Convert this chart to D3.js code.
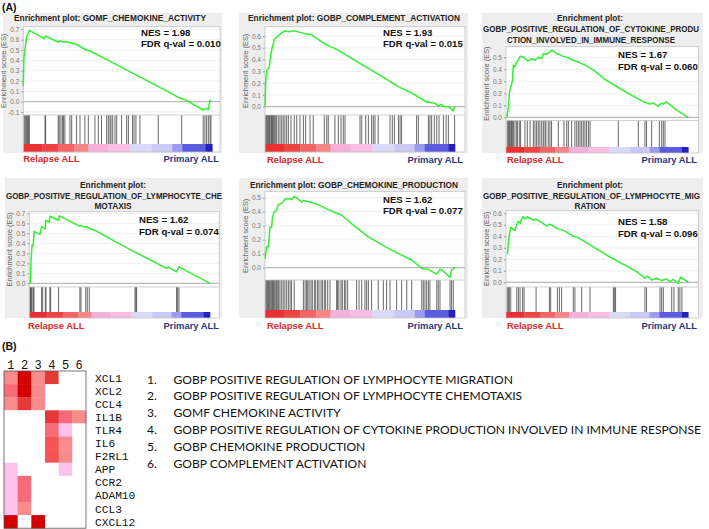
<!DOCTYPE html>
<html><head><meta charset="utf-8">
<script src="https://cdn.jsdelivr.net/npm/d3@7"></script>
<style>body{margin:0;background:#fff}svg{display:block}</style>
</head><body>
<svg id="c" width="709" height="529"></svg>
<script>
// ---------------- DATA ----------------
const titles1 = ["Enrichment plot: GOMF_CHEMOKINE_ACTIVITY"];
const titles2 = ["Enrichment plot: GOBP_COMPLEMENT_ACTIVATION"];
const titles3 = ["Enrichment plot:", "GOBP_POSITIVE_REGULATION_OF_CYTOKINE_PRODU", "CTION_INVOLVED_IN_IMMUNE_RESPONSE"];
const titles4 = ["Enrichment plot:", "GOBP_POSITIVE_REGULATION_OF_LYMPHOCYTE_CHE", "MOTAXIS"];
const titles5 = ["Enrichment plot: GOBP_CHEMOKINE_PRODUCTION"];
const titles6 = ["Enrichment plot:", "GOBP_POSITIVE_REGULATION_OF_LYMPHOCYTE_MIG", "RATION"];
const nesValues = ["1.98", "1.93", "1.67", "1.62", "1.62", "1.58"];
const fdrValues = ["0.010", "0.015", "0.060", "0.074", "0.077", "0.096"];
const groupLabels = ["Relapse ALL", "Primary ALL"];

const yTicks1 = [-0.1, 0, 0.1, 0.2, 0.3, 0.4, 0.5, 0.6, 0.7];
const yTicks2 = [0, 0.1, 0.2, 0.3, 0.4, 0.5, 0.6];
const yTicks3 = [0, 0.1, 0.2, 0.3, 0.4, 0.5];
const yTicks4 = [0, 0.1, 0.2, 0.3, 0.4, 0.5, 0.6, 0.7];
const yTicks5 = [0, 0.1, 0.2, 0.3, 0.4, 0.5];
const yTicks6 = [0, 0.1, 0.2, 0.3, 0.4, 0.5, 0.6];

// running enrichment score: [rank fraction, ES]
const es1 = [[0,0.15],[0.0035,0.43],[0.012,0.55],[0.018,0.63],[0.026,0.66],[0.032,0.69],[0.111,0.61],[0.118,0.635],[0.185,0.575],[0.194,0.59],[0.212,0.575],[0.229,0.58],[0.247,0.57],[0.282,0.555],[0.332,0.50],[0.353,0.49],[0.45,0.40],[0.60,0.255],[0.70,0.16],[0.829,0.035],[0.86,0.015],[0.952,-0.08],[0.966,-0.065],[0.979,-0.075],[0.988,0.015],[0.996,0.0]];
const es2 = [[0,0],[0.0035,0.2],[0.009,0.31],[0.018,0.325],[0.023,0.35],[0.032,0.45],[0.039,0.51],[0.049,0.57],[0.061,0.59],[0.079,0.615],[0.105,0.645],[0.123,0.635],[0.149,0.645],[0.175,0.635],[0.211,0.62],[0.246,0.61],[0.298,0.55],[0.342,0.51],[0.368,0.495],[0.456,0.41],[0.544,0.325],[0.632,0.24],[0.702,0.17],[0.789,0.10],[0.851,0.04],[0.895,0.03],[0.912,0.005],[0.926,0.02],[0.944,0.0],[0.965,0.0],[0.991,-0.035],[1.0,0.005]];
const es3 = [[0.004,0],[0.013,0.075],[0.018,0.2],[0.026,0.255],[0.035,0.3],[0.040,0.435],[0.049,0.42],[0.059,0.46],[0.068,0.48],[0.080,0.51],[0.095,0.5],[0.122,0.47],[0.141,0.49],[0.159,0.475],[0.177,0.5],[0.196,0.49],[0.205,0.53],[0.223,0.525],[0.241,0.545],[0.250,0.56],[0.260,0.555],[0.278,0.53],[0.296,0.52],[0.311,0.51],[0.333,0.5],[0.369,0.475],[0.406,0.455],[0.433,0.435],[0.479,0.395],[0.534,0.325],[0.625,0.24],[0.717,0.16],[0.753,0.13],[0.790,0.11],[0.808,0.12],[0.835,0.09],[0.848,0.115],[0.863,0.11],[0.881,0.13],[0.936,0.06],[1.0,0]];
const es4 = [[0,0],[0.007,0],[0.009,0.2],[0.015,0.38],[0.022,0.375],[0.026,0.52],[0.059,0.49],[0.068,0.57],[0.087,0.54],[0.092,0.63],[0.111,0.61],[0.114,0.67],[0.161,0.63],[0.166,0.675],[0.280,0.57],[0.286,0.58],[0.308,0.56],[0.314,0.565],[0.373,0.52],[0.576,0.32],[0.760,0.15],[0.769,0.165],[0.815,0.115],[0.828,0.165],[1.0,0]];
const es5 = [[0,0.065],[0.009,0.15],[0.018,0.15],[0.026,0.29],[0.035,0.29],[0.039,0.36],[0.049,0.40],[0.061,0.41],[0.070,0.45],[0.088,0.46],[0.096,0.47],[0.105,0.49],[0.123,0.49],[0.132,0.495],[0.140,0.485],[0.154,0.51],[0.193,0.47],[0.202,0.48],[0.246,0.465],[0.281,0.45],[0.333,0.415],[0.404,0.375],[0.456,0.315],[0.544,0.22],[0.632,0.15],[0.719,0.09],[0.772,0.055],[0.825,-0.005],[0.860,-0.012],[0.895,-0.04],[0.904,-0.045],[0.921,-0.012],[0.930,-0.015],[0.974,-0.07],[0.982,-0.016],[0.991,-0.01],[1.0,0.007]];
const es6 = [[0.004,0.25],[0.009,0.25],[0.013,0.345],[0.018,0.41],[0.026,0.48],[0.049,0.45],[0.059,0.50],[0.068,0.53],[0.077,0.51],[0.086,0.555],[0.095,0.57],[0.104,0.55],[0.117,0.57],[0.150,0.54],[0.165,0.55],[0.223,0.49],[0.241,0.505],[0.278,0.47],[0.296,0.46],[0.324,0.445],[0.369,0.40],[0.388,0.395],[0.570,0.22],[0.717,0.093],[0.762,0.035],[0.775,0.055],[0.799,0.02],[0.826,0.035],[0.854,0.015],[0.881,0.03],[0.899,0.005],[0.918,0.025],[0.936,0.0],[0.945,-0.01],[0.958,0.045],[1.0,0]];

// gene set hit positions (rank fraction)
const hits1 = [0.004,0.009,0.014,0.018,0.023,0.028,0.032,0.115,0.118,0.185,0.190,0.199,0.208,0.212,0.220,0.247,0.256,0.282,0.300,0.326,0.344,0.379,0.397,0.414,0.441,0.450,0.459,0.464,0.473,0.485,0.494,0.520,0.547,0.556,0.578,0.586,0.596,0.617,0.714,0.838,0.952,0.961,0.970,0.979,0.988,0.993];
const hits2 = [0.004,0.009,0.012,0.018,0.023,0.026,0.032,0.035,0.039,0.044,0.049,0.054,0.061,0.070,0.079,0.088,0.096,0.105,0.114,0.123,0.137,0.154,0.167,0.184,0.202,0.214,0.237,0.254,0.312,0.325,0.333,0.368,0.386,0.400,0.412,0.421,0.500,0.509,0.530,0.544,0.561,0.570,0.579,0.596,0.658,0.670,0.681,0.702,0.711,0.719,0.798,0.807,0.860,0.868,0.877,0.891,0.904,0.916,0.939,0.953,0.965,0.998];
const hits3 = [0.007,0.013,0.018,0.022,0.027,0.031,0.037,0.040,0.049,0.059,0.062,0.073,0.080,0.104,0.117,0.132,0.150,0.159,0.168,0.177,0.186,0.196,0.205,0.214,0.219,0.232,0.241,0.250,0.287,0.318,0.333,0.342,0.360,0.378,0.388,0.397,0.406,0.415,0.424,0.433,0.442,0.452,0.461,0.616,0.726,0.762,0.771,0.799,0.841,0.854,0.863,0.872];
const hits4 = [0.004,0.007,0.011,0.015,0.022,0.026,0.068,0.074,0.089,0.092,0.114,0.118,0.162,0.280,0.286,0.312,0.321,0.332,0.585,0.590,0.594,0.815,0.821,0.828];
const hits5 = [0.004,0.009,0.014,0.018,0.023,0.028,0.035,0.039,0.044,0.049,0.054,0.061,0.067,0.072,0.079,0.088,0.096,0.105,0.114,0.123,0.132,0.140,0.154,0.202,0.211,0.219,0.225,0.232,0.242,0.249,0.260,0.267,0.277,0.284,0.295,0.302,0.312,0.319,0.330,0.342,0.377,0.382,0.389,0.400,0.407,0.418,0.425,0.435,0.482,0.495,0.509,0.526,0.535,0.544,0.561,0.596,0.623,0.640,0.658,0.693,0.719,0.746,0.772,0.825,0.833,0.842,0.851,0.860,0.868,0.904,0.912,0.921,0.974,0.982,0.991];
const hits6 = [0.007,0.013,0.018,0.026,0.059,0.068,0.077,0.091,0.099,0.165,0.238,0.245,0.282,0.293,0.305,0.369,0.378,0.415,0.461,0.589,0.594,0.601,0.762,0.771,0.845,0.854,0.863,0.909,0.921,0.945,0.954,0.965];

// ranked-list colour bar: block end fractions and colours
const barStops = [0.10, 0.186, 0.27, 0.345, 0.45, 0.566, 0.68, 0.788, 0.841, 0.965, 1.0];
const barColors = ["#ea3030","#ef4444","#f46464","#f78686","#f6b0dc","#f7bde3","#dadaf8","#c9c9f5","#9a9aee","#5b5be0","#2222bb"];

// panel B
const columnLabels = ["1", "2", "3", "4", "5", "6"];
const genes = ["XCL1","XCL2","CCL4","IL1B","TLR4","IL6","F2RL1","APP","CCR2","ADAM10","CCL3","CXCL12"];
const heatValues = [
  [2,6,2,5,0,0],
  [3,6,2,0,0,0],
  [2,5,2,0,0,0],
  [0,0,0,5,3,2],
  [0,0,0,3,1,0],
  [0,0,0,4,2,0],
  [0,0,0,4,2,0],
  [1,0,0,0,1,0],
  [1,3,0,0,0,0],
  [1,3,0,0,0,0],
  [1,2,0,0,0,0],
  [6,0,6,0,0,0]
];
const heatLevels = [0,1,2,3,4,5,6];
const heatColors = ["#ffffff","#fbc2ee","#f98b8b","#f76a7a","#f65454","#e53838","#d40000"];
const pathways = [
  "GOBP POSITIVE REGULATION OF LYMPHOCYTE MIGRATION",
  "GOBP POSITIVE REGULATION OF LYMPHOCYTE CHEMOTAXIS",
  "GOMF CHEMOKINE ACTIVITY",
  "GOBP POSITIVE REGULATION OF CYTOKINE PRODUCTION INVOLVED IN IMMUNE RESPONSE",
  "GOBP CHEMOKINE PRODUCTION",
  "GOBP COMPLEMENT ACTIVATION"
];

// ---------------- LAYOUT ----------------
const panelData = [
  {titles: titles1, es: es1, hits: hits1, ticks: yTicks1},
  {titles: titles2, es: es2, hits: hits2, ticks: yTicks2},
  {titles: titles3, es: es3, hits: hits3, ticks: yTicks3},
  {titles: titles4, es: es4, hits: hits4, ticks: yTicks4},
  {titles: titles5, es: es5, hits: hits5, ticks: yTicks5},
  {titles: titles6, es: es6, hits: hits6, ticks: yTicks6}
];
const layout = [
  {bg:[3,13,222,153], xs:23.3, xe:212.3, right:220, top:26.7, esB:115, barT:144, barB:152, zero:101.7, refV:0.7, refPx:29.3,
   tl:[{x0:14,x1:206,y:21}], nes:[141,36,47], lab:[23.3,219,162]},
  {bg:[239,13,468,153], xs:265, xe:455, right:465, top:26.7, esB:115, barT:144, barB:152, zero:106.7, refV:0.6, refPx:36,
   tl:[{x0:248,x1:460,y:21}], nes:[383,36,47], lab:[267,463,163]},
  {bg:[482,13,703,153], xs:506, xe:688.3, right:698.3, top:46.7, esB:120.5, barT:147, barB:153, zero:117.3, refV:0.5, refPx:57.3,
   tl:[{c:590,y:21},{x0:483,x1:699,y:32},{x0:507,x1:675,y:42.5}], nes:[618,58.3,70], lab:[507,697,163]},
  {bg:[5,178,222,318], xs:29.3, xe:210, right:219.3, top:211.7, esB:287, barT:312, barB:318, zero:283.3, refV:0.7, refPx:213.3,
   tl:[{c:113,y:188},{x0:6,x1:222,y:199},{c:113,y:209}], nes:[139,223.3,235], lab:[28,219,329]},
  {bg:[239,178,468,318], xs:265, xe:455, right:465, top:191.7, esB:280, barT:310, barB:318, zero:267.7, refV:0.5, refPx:197.7,
   tl:[{x0:250,x1:458,y:188}], nes:[383,203.3,214.3], lab:[267,463,329]},
  {bg:[482,178,703,318], xs:506, xe:688.3, right:698.3, top:210.7, esB:287, barT:312, barB:318, zero:282.3, refV:0.6, refPx:213.3,
   tl:[{c:590,y:188},{x0:483,x1:700,y:199},{c:590,y:209}], nes:[618,225,236.7], lab:[507,697,329]}
];

const svg = d3.select("#c");
const SANS = "'Liberation Sans', Arial, sans-serif";

svg.append("text").attr("x", 2).attr("y", 11).attr("font-family", SANS)
  .attr("font-weight", "bold").attr("font-size", 10.5).attr("fill", "#111").text("(A)");

panelData.forEach((pd, i) => {
  const L = layout[i];
  const g = svg.append("g");
  g.append("rect").attr("x", L.bg[0]).attr("y", L.bg[1]).attr("width", L.bg[2]-L.bg[0])
    .attr("height", L.bg[3]-L.bg[1]).attr("fill", "#eeeeee");
  const x = d3.scaleLinear().domain([0, 1]).range([L.xs, L.xe]);
  const y = d3.scaleLinear().domain([0, L.refV]).range([L.zero, L.refPx]);

  g.append("rect").attr("x", L.xs).attr("y", L.top).attr("width", L.right-L.xs)
    .attr("height", L.barB-L.top).attr("fill", "#fff");

  g.selectAll("line.grid").data(pd.ticks).join("line").attr("class","grid")
    .attr("x1", L.xs).attr("x2", L.right).attr("y1", d => y(d)).attr("y2", d => y(d))
    .attr("stroke", d => d === 0 ? "#a8a8a8" : "#ececec").attr("stroke-width", d => d === 0 ? 1 : 0.8);

  const ax = g.append("g").attr("transform", `translate(${L.xs},0)`)
    .call(d3.axisLeft(y).tickValues(pd.ticks).tickSize(2).tickPadding(2).tickFormat(d => d.toFixed(1)));
  ax.select(".domain").remove();
  ax.selectAll(".tick line").attr("stroke", "#999");
  ax.selectAll(".tick text").attr("font-family", SANS).attr("font-size", 6.5).attr("fill", "#777");

  g.append("text").attr("transform", `translate(${L.xs-17},${(L.top+L.esB)/2}) rotate(-90)`)
    .attr("text-anchor", "middle").attr("font-family", SANS).attr("font-size", 7.4).attr("fill", "#666")
    .text("Enrichment score (ES)");

  g.selectAll("line.hit").data(pd.hits).join("line").attr("class","hit")
    .attr("x1", d => x(d)).attr("x2", d => x(d)).attr("y1", L.esB).attr("y2", L.barT)
    .attr("stroke", "#3a3a3a").attr("stroke-width", 0.9).attr("stroke-opacity", 0.85);

  const starts = [0].concat(barStops.slice(0, -1));
  g.selectAll("rect.bar").data(barStops).join("rect").attr("class","bar")
    .attr("x", (d, k) => x(starts[k])).attr("width", (d, k) => x(d) - x(starts[k]) + 0.3)
    .attr("y", L.barT).attr("height", L.barB - L.barT).attr("fill", (d, k) => barColors[k]);

  g.append("line").attr("x1", L.xs).attr("x2", L.right).attr("y1", L.esB).attr("y2", L.esB)
    .attr("stroke", "#c4c4c4").attr("stroke-width", 0.8);
  g.append("rect").attr("x", L.xs).attr("y", L.top).attr("width", L.right-L.xs)
    .attr("height", L.barB-L.top).attr("fill", "none").attr("stroke", "#c4c4c4").attr("stroke-width", 0.8);

  g.append("path").datum(pd.es).attr("fill", "none").attr("stroke", "#33ee33").attr("stroke-width", 1.5)
    .attr("stroke-linejoin", "round")
    .attr("d", d3.line().x(d => x(d[0])).y(d => y(d[1])));

  pd.titles.forEach((t, k) => {
    const p = L.tl[k];
    const tx = g.append("text").attr("font-family", SANS).attr("font-weight", "bold")
      .attr("font-size", 8.3).attr("fill", "#222").attr("y", p.y).text(t);
    if (p.c !== undefined) tx.attr("x", p.c).attr("text-anchor", "middle");
    else tx.attr("x", p.x0).attr("textLength", p.x1 - p.x0).attr("lengthAdjust", "spacingAndGlyphs");
  });

  g.append("text").attr("x", L.nes[0]).attr("y", L.nes[1]).attr("font-family", SANS).attr("font-weight", "bold")
    .attr("font-size", 9.6).attr("fill", "#111").text("NES = " + nesValues[i]);
  g.append("text").attr("x", L.nes[0]).attr("y", L.nes[2]).attr("font-family", SANS).attr("font-weight", "bold")
    .attr("font-size", 9.6).attr("fill", "#111").text("FDR q-val = " + fdrValues[i]);

  g.append("text").attr("x", L.lab[0]).attr("y", L.lab[2]).attr("font-family", SANS).attr("font-weight", "bold")
    .attr("font-size", 9.4).attr("fill", "#d9292b").text(groupLabels[0]);
  g.append("text").attr("x", L.lab[1]).attr("y", L.lab[2]).attr("text-anchor", "end").attr("font-family", SANS)
    .attr("font-weight", "bold").attr("font-size", 9.4).attr("fill", "#25387c").text(groupLabels[1]);
});

// ---------------- PANEL B ----------------
svg.append("text").attr("x", 2).attr("y", 350).attr("font-family", SANS)
  .attr("font-weight", "bold").attr("font-size", 10.5).attr("fill", "#111").text("(B)");

const MONO = "'Liberation Mono', 'DejaVu Sans Mono', monospace";
const rowH = 13.1;
const hx = d3.scaleBand().domain(columnLabels).range([4, 86]);
const hy = d3.scaleBand().domain(genes).range([371, 371 + rowH * genes.length]);
const hc = d3.scaleOrdinal().domain(heatLevels).range(heatColors);

const cells = [];
heatValues.forEach((row, r) => row.forEach((v, c) => cells.push({gene: genes[r], col: columnLabels[c], v})));
svg.append("g").selectAll("rect").data(cells).join("rect")
  .attr("x", d => hx(d.col)).attr("y", d => hy(d.gene))
  .attr("width", hx.bandwidth() + 0.3).attr("height", hy.bandwidth() + 0.3)
  .attr("fill", d => hc(d.v));
svg.append("rect").attr("x", 4).attr("y", 371).attr("width", 82).attr("height", rowH * genes.length)
  .attr("fill", "none").attr("stroke", "#555").attr("stroke-width", 0.8);

svg.append("g").selectAll("text").data(columnLabels).join("text")
  .attr("x", d => hx(d) + hx.bandwidth() / 2).attr("y", 368.5).attr("text-anchor", "middle")
  .attr("font-family", MONO).attr("font-size", 12).attr("fill", "#111").text(d => d);

svg.append("g").selectAll("text").data(genes).join("text")
  .attr("x", 95).attr("y", d => hy(d) + hy.bandwidth() / 2 + 4)
  .attr("font-family", MONO).attr("font-size", 11.2).attr("fill", "#111").text(d => d);

// pathway list
const LIST = "Lato, 'Open Sans', sans-serif";
const listG = svg.append("g");
const probe = listG.append("text").attr("font-family", LIST).attr("font-size", 12).text(pathways[3]);
const fs = 12 * 528 / probe.node().getComputedTextLength();
probe.remove();
pathways.forEach((p, k) => {
  const yy = 383.5 + 16.8 * k;
  listG.append("text").attr("x", 147).attr("y", yy).attr("font-family", LIST).attr("font-size", fs)
    .attr("fill", "#111").text((k + 1) + ".");
  listG.append("text").attr("x", 173.5).attr("y", yy).attr("font-family", LIST).attr("font-size", fs)
    .attr("fill", "#111").text(p);
});
</script></body></html>
